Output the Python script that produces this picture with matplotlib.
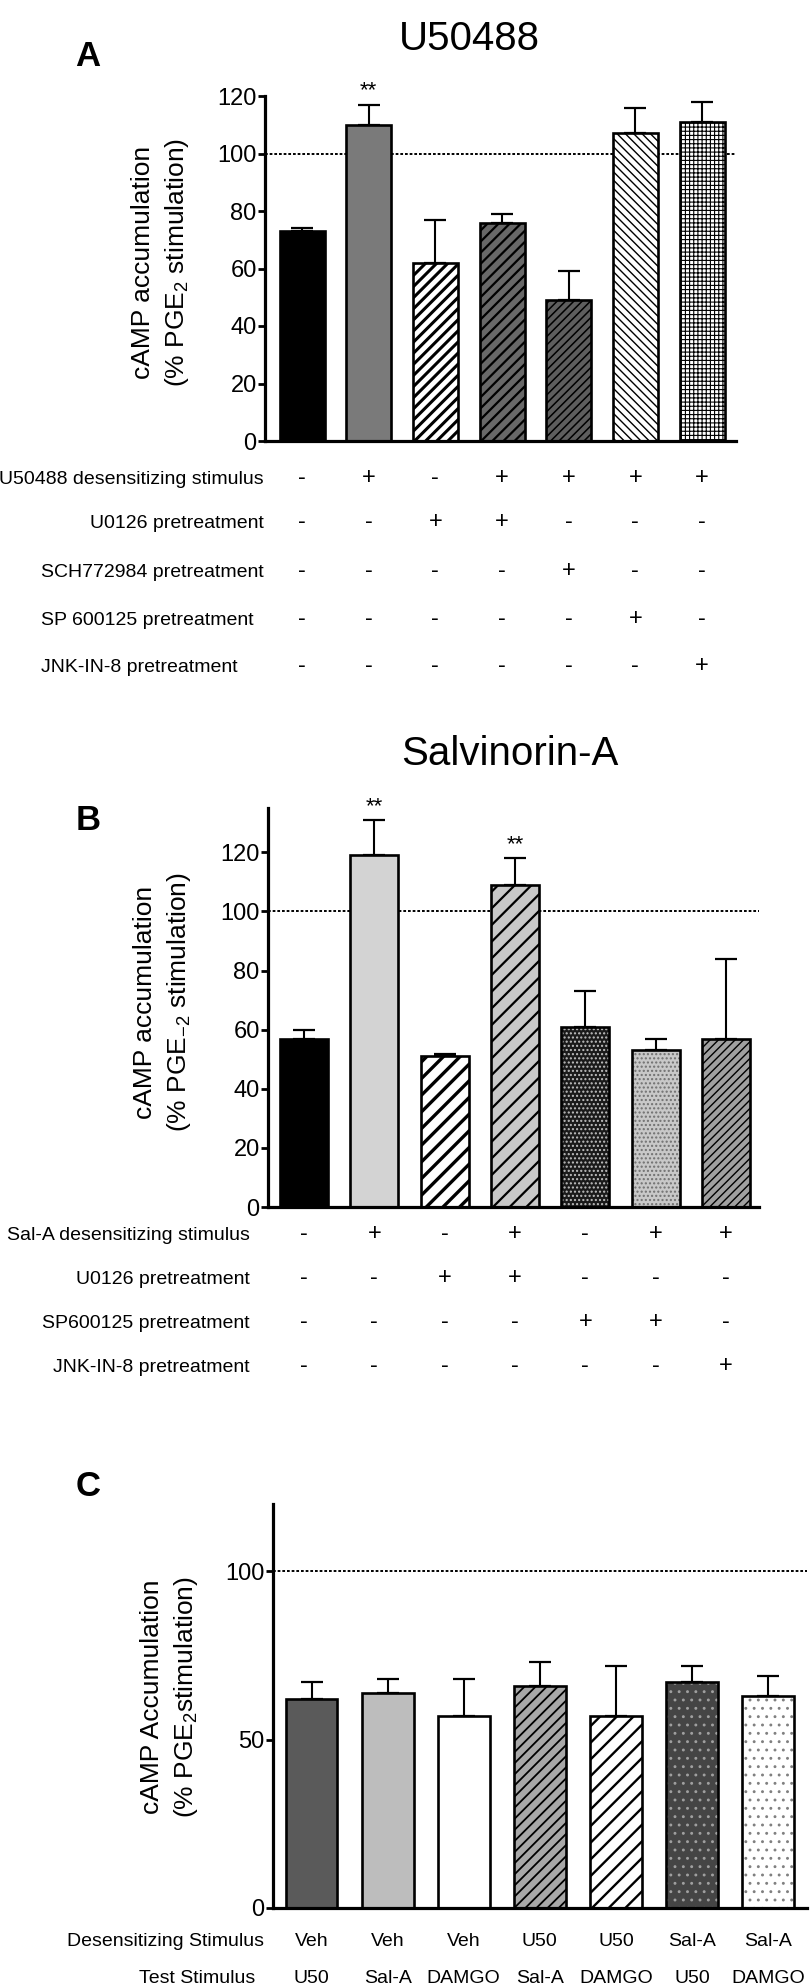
import matplotlib
matplotlib.use('Agg')
import matplotlib.pyplot as plt
from matplotlib.transforms import blended_transform_factory

plt.rcParams['font.family'] = ['Liberation Sans', 'DejaVu Sans']
plt.rcParams['mathtext.fontset'] = 'custom'
plt.rcParams['mathtext.rm'] = 'Liberation Sans'
plt.rcParams['mathtext.it'] = 'Liberation Sans:italic'
plt.rcParams['mathtext.bf'] = 'Liberation Sans:bold'

W, H = 810, 1988

# panel A - U50488
a_vals = [73, 110, 62, 76, 49, 107, 111]
a_err = [1, 7, 15, 3, 10, 9, 7]
a_rows = ['U50488 desensitizing stimulus', 'U0126 pretreatment',
          'SCH772984 pretreatment', 'SP 600125 pretreatment', 'JNK-IN-8 pretreatment']
a_signs = [['-', '+', '-', '+', '+', '+', '+'],
           ['-', '-', '+', '+', '-', '-', '-'],
           ['-', '-', '-', '-', '+', '-', '-'],
           ['-', '-', '-', '-', '-', '+', '-'],
           ['-', '-', '-', '-', '-', '-', '+']]
a_stars = [1]

# panel B - Salvinorin-A
b_vals = [57, 119, 51, 109, 61, 53, 57]
b_err = [3, 12, 0.6, 9, 12, 4, 27]
b_rows = ['Sal-A desensitizing stimulus', 'U0126 pretreatment',
          'SP600125 pretreatment', 'JNK-IN-8 pretreatment']
b_signs = [['-', '+', '-', '+', '-', '+', '+'],
           ['-', '-', '+', '+', '-', '-', '-'],
           ['-', '-', '-', '-', '+', '+', '-'],
           ['-', '-', '-', '-', '-', '-', '+']]
b_stars = [1, 3]

# panel C
c_vals = [62, 64, 57, 66, 57, 67, 63]
c_err = [5, 4, 11, 7, 15, 5, 6]
c_rows = ['Desensitizing Stimulus', 'Test Stimulus']
c_desens = ['Veh', 'Veh', 'Veh', 'U50', 'U50', 'Sal-A', 'Sal-A']
c_test = ['U50', 'Sal-A', 'DAMGO', 'Sal-A', 'DAMGO', 'U50', 'DAMGO']

fig = plt.figure(figsize=(W / 100, H / 100), dpi=100)


def fy(y):
    return 1 - y / H


def panel(box, xlim, ylim, yticks, vals, errs, faces, hatches, hcols, hlws, width, ylabel, lab_xy):
    l, t, r, b = box
    ax = fig.add_axes([l / W, 1 - b / H, (r - l) / W, (b - t) / H])
    xs = list(range(len(vals)))
    ax.axhline(100, color='black', lw=1.4, ls=(0, (1.4, 1.0)), zorder=1)
    ax.errorbar(xs, vals, yerr=[[0] * len(vals), errs], fmt='none', ecolor='black',
                elinewidth=1.5, capsize=8, capthick=1.6, zorder=1.5)
    for i in xs:
        with plt.rc_context({'hatch.linewidth': hlws[i]}):
            bars = ax.bar(xs[i], vals[i], width, color=faces[i], edgecolor=hcols[i],
                          linewidth=0, hatch=hatches[i], zorder=2)
        for p in bars:
            if hasattr(p, 'set_hatch_linewidth'):
                p.set_hatch_linewidth(hlws[i])
    ax.bar(xs, vals, width, fill=False, edgecolor='black', linewidth=1.9, zorder=3)
    ax.set_xlim(*xlim)
    ax.set_ylim(*ylim)
    ax.set_yticks(yticks)
    ax.set_xticks([])
    ax.tick_params(axis='y', labelsize=17, width=2, length=5, pad=1)
    for s in ['top', 'right']:
        ax.spines[s].set_visible(False)
    for s in ['left', 'bottom']:
        ax.spines[s].set_linewidth(2.3)
    fig.text(lab_xy[0] / W, fy(lab_xy[1]), ylabel, rotation=90, ha='center', va='center',
             fontsize=19, linespacing=1.35, multialignment='center')
    return ax


# ---- A ----
axA = panel((265, 96, 736, 441), (-0.555, 6.51), (0, 120), range(0, 121, 20),
            a_vals, a_err,
            ['black', '#7a7a7a', 'white', '#686868', '#5e5e5e', 'white', 'white'],
            [None, None, '///', '///', '////', '\\\\\\\\', '++++'],
            ['black'] * 7, [0, 0, 2.2, 1.6, 1.1, 1.0, 0.8], 0.675,
            'cAMP accumulation\n(% PGE$_2$ stimulation)', (161, 262))
fig.text(88 / W, fy(66), 'A', fontsize=25, fontweight='bold', ha='center', va='baseline')
fig.text(469 / W, fy(50), 'U50488', fontsize=29, ha='center', va='baseline')
for i in a_stars:
    axA.text(i, a_vals[i] + a_err[i] + 5, '**', ha='center', va='center', fontsize=16)
trA = blended_transform_factory(axA.transData, fig.transFigure)
a_base = [484, 528, 577, 625, 672]
for k, name in enumerate(a_rows):
    if k < 2:
        fig.text(264 / W, fy(a_base[k]), name, fontsize=14, ha='right', va='baseline')
    else:
        fig.text(41 / W, fy(a_base[k]), name, fontsize=14, ha='left', va='baseline')
    for i, s in enumerate(a_signs[k]):
        axA.text(i, fy(a_base[k]), s, transform=trA, fontsize=17, ha='center', va='baseline')

# ---- B ----
axB = panel((268, 808, 759, 1207), (-0.512, 6.47), (0, 135), range(0, 121, 20),
            b_vals, b_err,
            ['black', '#d3d3d3', 'white', '#c8c8c8', '#1a1a1a', '#c8c8c8', '#a0a0a0'],
            [None, None, '//', '//', '....', '....', '////'],
            ['black', 'black', 'black', 'black', '#c0c0c0', '#707070', 'black'],
            [0, 0, 2.4, 1.6, 1.0, 1.0, 1.0], 0.68,
            'cAMP accumulation\n(% PGE$_{\\mathregular{-2}}$ stimulation)', (163, 1002))
fig.text(88 / W, fy(830), 'B', fontsize=25, fontweight='bold', ha='center', va='baseline')
fig.text(510 / W, fy(765), 'Salvinorin-A', fontsize=29, ha='center', va='baseline')
for i in b_stars:
    axB.text(i, b_vals[i] + b_err[i] + 4.5, '**', ha='center', va='center', fontsize=16)
trB = blended_transform_factory(axB.transData, fig.transFigure)
b_base = [1240, 1284, 1328, 1372]
for k, name in enumerate(b_rows):
    fig.text(250 / W, fy(b_base[k]), name, fontsize=14, ha='right', va='baseline')
    for i, s in enumerate(b_signs[k]):
        axB.text(i, fy(b_base[k]), s, transform=trB, fontsize=17, ha='center', va='baseline')

# ---- C ----
axC = panel((273, 1504, 807, 1908), (-0.506, 6.51), (0, 120), [0, 50, 100],
            c_vals, c_err,
            ['#5a5a5a', '#bdbdbd', 'white', '#a8a8a8', 'white', '#454545', 'white'],
            [None, None, None, '///', '//', '..', '..'],
            ['black', 'black', 'black', 'black', 'black', '#a0a0a0', '#808080'],
            [0, 0, 0, 1.3, 1.7, 0.9, 0.9], 0.68,
            'cAMP Accumulation\n(% PGE$_2$stimulation)', (170, 1697))
fig.text(88 / W, fy(1496), 'C', fontsize=25, fontweight='bold', ha='center', va='baseline')
trC = blended_transform_factory(axC.transData, fig.transFigure)
fig.text(264 / W, fy(1946), c_rows[0], fontsize=14, ha='right', va='baseline')
fig.text(255 / W, fy(1983), c_rows[1], fontsize=14, ha='right', va='baseline')
for i in range(len(c_vals)):
    axC.text(i, fy(1946), c_desens[i], transform=trC, fontsize=14, ha='center', va='baseline')
    axC.text(i, fy(1983), c_test[i], transform=trC, fontsize=14, ha='center', va='baseline')

fig.savefig('out.png', dpi=100)
